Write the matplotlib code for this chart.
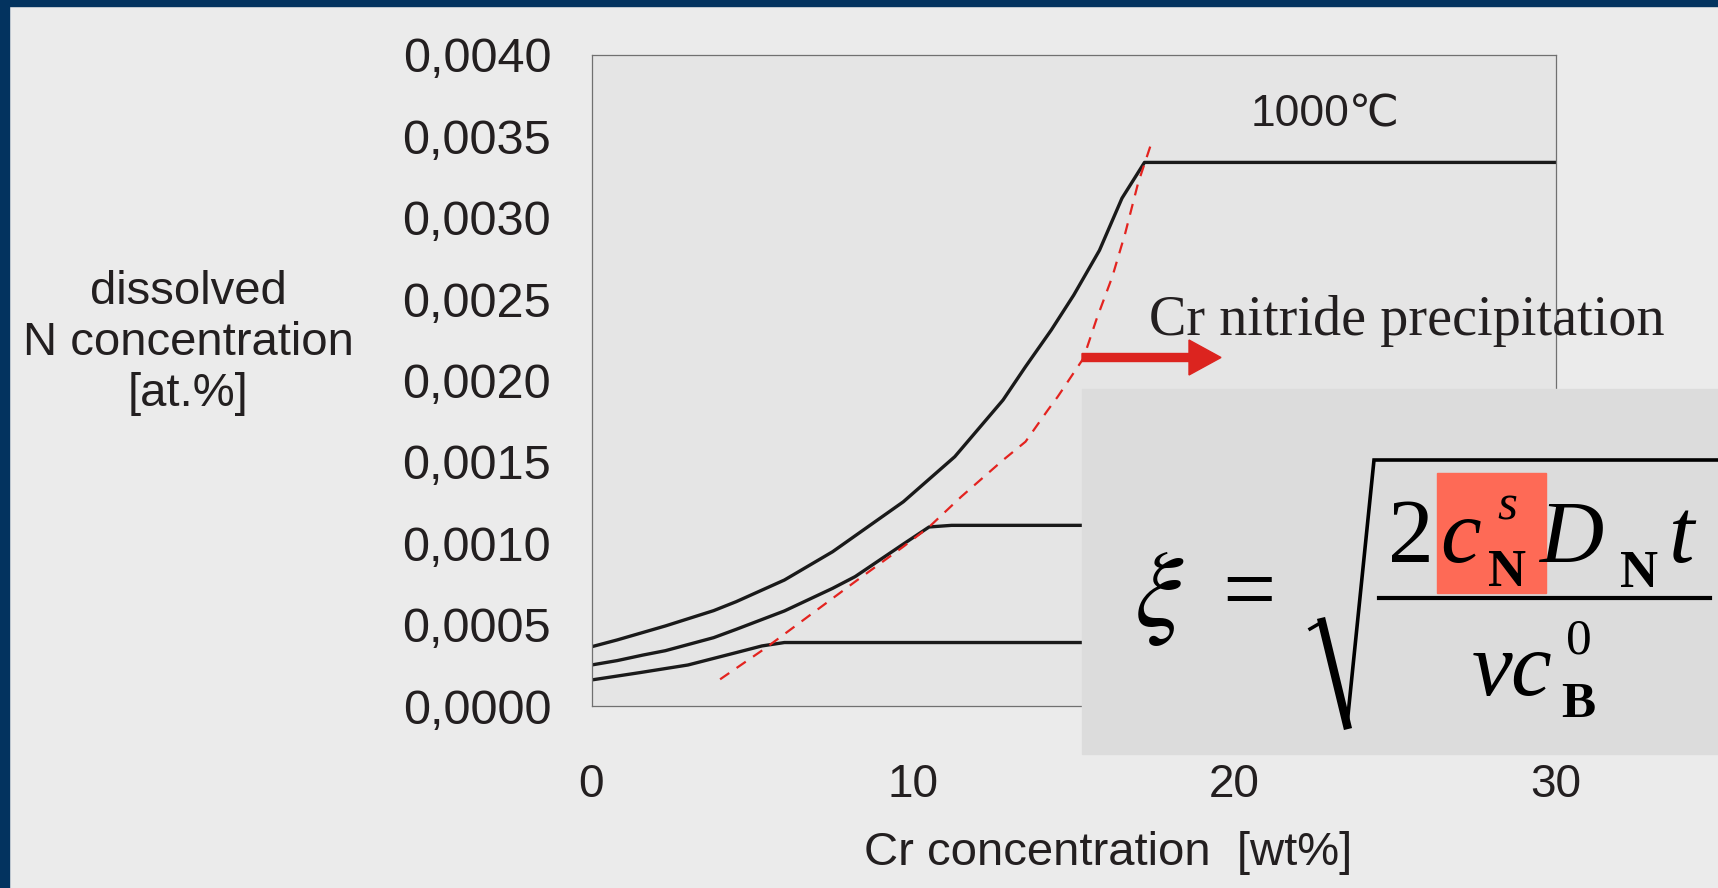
import matplotlib.pyplot as plt
from matplotlib.patches import Rectangle, Polygon
from matplotlib.lines import Line2D

# curve data (Cr wt%, dissolved N at.%)
cr_1000 = [0, 0.8, 2.3, 3.8, 4.5, 6.0, 7.5, 9.7, 11.3, 12.8, 13.5, 14.3, 15.0, 15.8, 16.5, 17.2, 30]
n_1000 = [0.000364, 0.000406, 0.000492, 0.000586, 0.000641, 0.000774, 0.000948, 0.001255,
          0.001532, 0.00188, 0.002085, 0.00231, 0.002525, 0.0028, 0.00312, 0.00334, 0.00334]
cr_mid = [0, 0.8, 1.6, 2.3, 3.8, 4.5, 6.0, 7.5, 8.2, 9.7, 10.5, 11.2, 30]
n_mid = [0.000252, 0.000279, 0.000313, 0.00034, 0.00042, 0.000471, 0.000584, 0.000723,
         0.000795, 0.000995, 0.0011, 0.00111, 0.00111]
cr_low = [0, 1.5, 3.0, 4.5, 5.3, 6.0, 30]
n_low = [0.00016, 0.000205, 0.000252, 0.000328, 0.000369, 0.00039, 0.00039]
cr_dash = [4.0, 5.4, 6.8, 8.2, 9.7, 10.5, 11.5, 12.8, 13.5, 14.2, 14.5, 15.3, 15.7, 16.2, 16.6, 17.0, 17.4]
n_dash = [0.000164, 0.000354, 0.000559, 0.000764, 0.000979, 0.0011, 0.001286, 0.001511, 0.001624,
          0.00182, 0.0019, 0.002136, 0.002372, 0.002638, 0.002904, 0.003212, 0.00345]

x_ticks = [0, 10, 20, 30]
x_labels = ["0", "10", "20", "30"]
y_ticks = [0, 0.0005, 0.001, 0.0015, 0.002, 0.0025, 0.003, 0.0035, 0.004]
y_labels = ["0,0000", "0,0005", "0,0010", "0,0015", "0,0020", "0,0025", "0,0030", "0,0035", "0,0040"]

W, H = 1718, 888
SANS = ["Liberation Sans", "DejaVu Sans"]
SERIF = ["Liberation Serif", "DejaVu Serif"]
INK = "#231f20"


def fx(x):
    return x / W


def fy(y):
    return 1 - y / H


fig = plt.figure(figsize=(W / 100, H / 100), dpi=100, facecolor="#ebebeb")

# navy frame of the slide
fig.add_artist(Rectangle((0, fy(6)), 1, 6 / H, transform=fig.transFigure, color="#03335f", zorder=1))
fig.add_artist(Rectangle((0, 0), 9 / W, 1, transform=fig.transFigure, color="#03335f", zorder=1))

ax = fig.add_axes([fx(591.5), fy(706), (1556 - 591.5) / W, (706 - 55) / H])
ax.set_facecolor("#e5e5e5")
for s in ax.spines.values():
    s.set_color("#707070")
    s.set_linewidth(0.9)

ax.plot(cr_1000, n_1000, color="#1a1a1a", lw=2.4)
ax.plot(cr_mid, n_mid, color="#1a1a1a", lw=2.4)
ax.plot(cr_low, n_low, color="#1a1a1a", lw=2.4)
ax.plot(cr_dash, n_dash, color="#e3231f", lw=1.6, dashes=(5, 4))

ax.set_xlim(0, 30)
ax.set_ylim(0, 0.004)
ax.set_xticks(x_ticks)
ax.set_xticklabels(x_labels, fontsize=33, family=SANS, color=INK)
ax.set_yticks(y_ticks)
ax.set_yticklabels(y_labels, fontsize=35, family=SANS, color=INK)
ax.tick_params(axis="x", length=0, pad=41)
ax.tick_params(axis="y", length=0, pad=29)

ax.text(20.5, 0.00356, "1000℃", fontsize=32, family=SANS, color=INK, va="baseline")

fig.text(fx(188), fy(343), "dissolved\nN concentration\n[at.%]", fontsize=34, family=SANS,
         color=INK, ha="center", va="center", multialignment="center", linespacing=1.2)
fig.text(fx(1108), fy(865), "Cr concentration  [wt%]", fontsize=34, family=SANS,
         color=INK, ha="center", va="baseline")

# red arrow + caption
arrow = [(1082, 353.5), (1189, 353.5), (1189, 340), (1221, 357.5), (1189, 375), (1189, 361.5), (1082, 361.5)]
fig.add_artist(Polygon([(fx(a), fy(b)) for a, b in arrow], closed=True, transform=fig.transFigure,
                       color="#dc241f", zorder=6))
fig.text(fx(1149), fy(335), "Cr nitride precipitation", fontsize=40.5, family=SERIF, color=INK,
         va="baseline", zorder=7)

# formula panel
fig.add_artist(Rectangle((fx(1082), fy(754)), (W - 1082) / W, (754 - 389) / H,
                         transform=fig.transFigure, color="#dcdcdc", zorder=5))
fig.add_artist(Rectangle((fx(1437), fy(593)), (1546 - 1437) / W, (593 - 473) / H,
                         transform=fig.transFigure, color="#fe6a56", zorder=6))


def piece(x, y, s, size, style="normal", weight="normal"):
    fig.text(fx(x), fy(y), s, fontsize=size, family=SERIF, style=style, weight=weight,
             color="black", va="baseline", ha="left", zorder=8, math_fontfamily="stix")


piece(1134, 626, r"$\xi$", 78)
piece(1222, 620, "=", 68)
piece(1388, 562, "2", 66)
piece(1440, 562, "c", 66, "italic")
piece(1497, 520, "s", 37, "italic")
piece(1488, 586, "N", 38, weight="bold")
piece(1540, 562, "D", 64, "italic")
piece(1620, 587, "N", 38, weight="bold")
piece(1669, 562, "t", 66, "italic")
piece(1472, 695, "ν", 66, "italic")
piece(1510, 695, "c", 66, "italic")
piece(1566, 653, "0", 37)
piece(1561, 717, "B", 37, weight="bold")


def seg(pts, lw):
    fig.add_artist(Line2D([fx(p[0]) for p in pts], [fy(p[1]) for p in pts], transform=fig.transFigure,
                          color="black", lw=lw, solid_joinstyle="miter", zorder=8))


seg([(1310, 629), (1322, 622)], 2.5)
seg([(1322, 622), (1347, 725)], 6)
seg([(1347, 725), (1374, 460), (W, 460)], 2.6)
seg([(1379, 598), (1710, 598)], 3.0)

fig.savefig("out.png", dpi=100, facecolor=fig.get_facecolor())
